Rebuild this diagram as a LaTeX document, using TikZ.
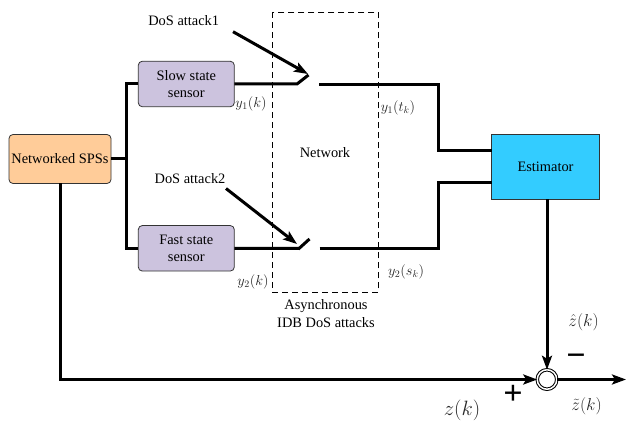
\documentclass[tikz,border=0pt]{standalone}
\usepackage{fontspec}
\setmainfont{Liberation Serif}
\usetikzlibrary{arrows.meta}
\definecolor{spsfill}{HTML}{FFCC99}
\definecolor{sensfill}{HTML}{CCC3DE}
\definecolor{estfill}{HTML}{33CCFF}
\begin{document}
\begin{tikzpicture}[x=1pt,y=-1pt,
  every node/.append style={font=\fontsize{14.4}{17.5}\selectfont, inner sep=0pt, outer sep=0pt},
  blk/.style={draw=black!80, line width=0.8pt, rounded corners=4pt, align=center},
  wire/.style={line width=3pt},
  arr/.style={line width=3pt, -{Stealth[length=14pt,width=10pt,inset=3pt]}},
  lbl/.style={text=black!85},
  sign/.style={font=\fontsize{34}{34}\selectfont\bfseries}
]
\useasboundingbox (0,0) rectangle (642,430);

% blocks
\node[blk, fill=spsfill, minimum width=102pt, minimum height=49pt] (spss) at (60,159) {Networked SPSs};
\node[blk, fill=sensfill, minimum width=96pt, minimum height=45.5pt] (slow) at (186.3,84) {Slow state\\sensor};
\node[blk, fill=sensfill, minimum width=96pt, minimum height=45.5pt] (fast) at (186.3,248.3) {Fast state\\sensor};
\node[blk, rounded corners=0pt, fill=estfill, minimum width=107.6pt, minimum height=65pt] (est) at (545.5,166.8) {Estimator};
\node[draw, circle, fill=white, line width=1pt, double distance=1.5pt, minimum size=19.5pt] (sum) at (547,379.5) {};

% network dashed box
\draw[dash pattern=on 6pt off 4pt, line width=0.8pt] (272.3,12.3) rectangle (378.3,292.3);

% coordinates
\coordinate (bus) at (126.5,159);
\coordinate (s1a) at (297,84);
\coordinate (s1b) at (308.5,75);
\coordinate (s1c) at (319,84.5);
\coordinate (s2a) at (299,248.5);
\coordinate (s2b) at (309.5,239);
\coordinate (s2c) at (319.5,248.5);
\coordinate (k1) at (438,151);
\coordinate (k2) at (438,182.7);
\coordinate (a1) at (233,31.7);
\coordinate (a1t) at (308,74);
\coordinate (a2) at (226,188.5);
\coordinate (a2t) at (297,244);
\coordinate (out) at (626,379.5);

% connectors
\draw[wire] (spss.east) -- (bus);
\draw[wire] (slow.west) -| (bus) |- (fast.west);
\draw[wire] (slow.east) -- (s1a) -- (s1b);
\draw[wire] (fast.east) -- (s2a) -- (s2b);
\draw[wire] (s1c) -| (k1) -- (est.west |- k1);
\draw[wire] (s2c) -| (k2) -- (est.west |- k2);
\draw[arr] (a1) -- (a1t);
\draw[arr] (a2) -- (a2t);
\draw[arr] (est.south -| sum.north) -- (sum.north);
\draw[arr] (spss.south) |- (sum.west);
\draw[arr] (sum.east) -- (out);

% labels
\node (t1) at (183.7,21) {DoS attack1};
\node (t2) at (190,179) {DoS attack2};
\node (tn) at (325,153) {Network};
\node[align=center] (ta) at (326,313.5) {Asynchronous\\IDB DoS attacks};
\node[lbl] (ly1) at (251,104) {$y_1(k)$};
\node[lbl] (ly2) at (253,281.7) {$y_2(k)$};
\node[lbl] (ly1t) at (398,108) {$y_1(t_k)$};
\node[lbl] (ly2s) at (406,271.7) {$y_2(s_k)$};
\node[lbl, font=\fontsize{17.28}{20}\selectfont] (lzh) at (583.5,322) {$\hat z(k)$};
\node[lbl, font=\fontsize{17.28}{20}\selectfont] (lzt) at (586.5,406) {$\tilde z(k)$};
\node[lbl, font=\fontsize{20.74}{24}\selectfont] (lz) at (462,410) {$z(k)$};
\node[sign] (minus) at (576,360) {−};
\node[sign] (plus) at (513,395) {+};
\end{tikzpicture}
\end{document}
